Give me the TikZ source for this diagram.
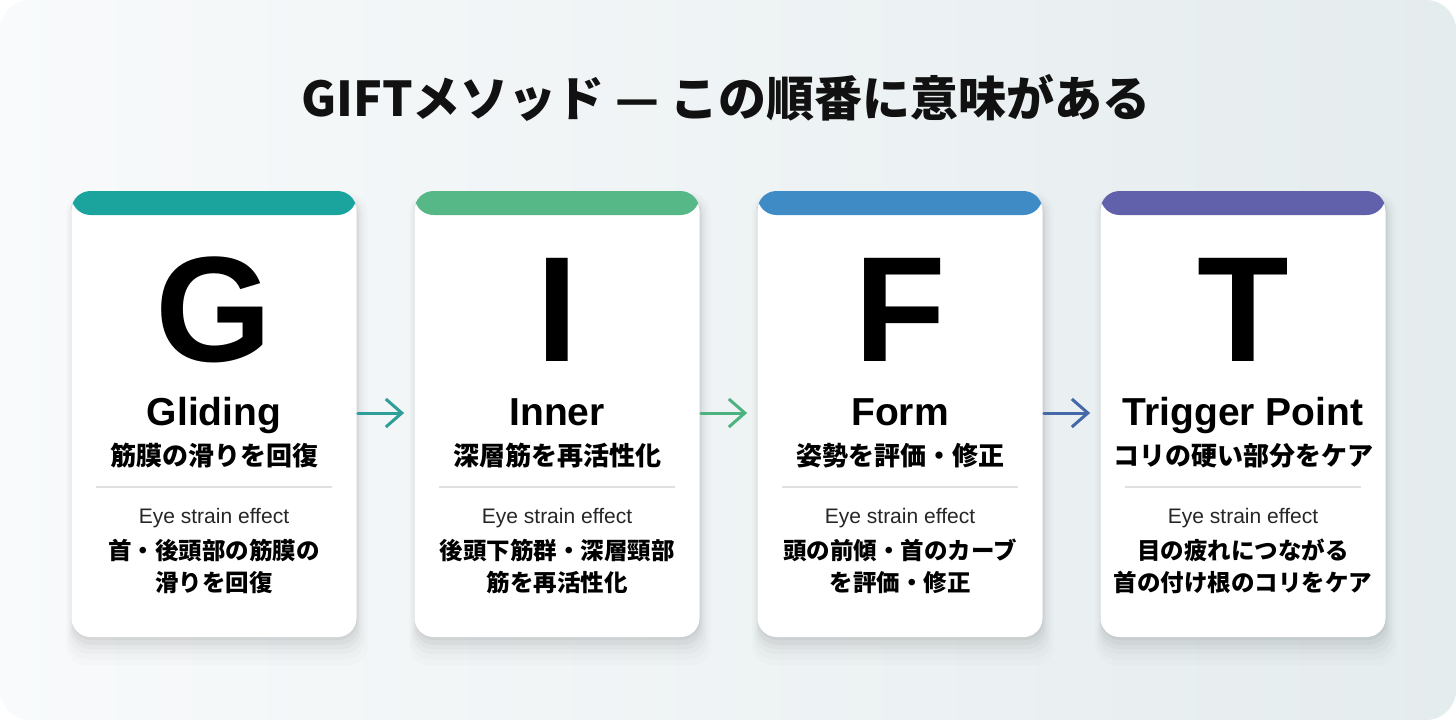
\documentclass[tikz,border=0pt]{standalone}
\usepackage{fontspec}
\setmainfont{Liberation Sans}
\newfontfamily\jpfont{Noto Sans CJK JP}
\usetikzlibrary{arrows.meta,shadows}
\definecolor{gteal}{HTML}{1BA39E}
\definecolor{igreen}{HTML}{56B886}
\definecolor{fblue}{HTML}{3E8BC6}
\definecolor{tpurple}{HTML}{6160AB}
\definecolor{ateal}{HTML}{2E9E98}
\definecolor{agreen}{HTML}{4DB37E}
\definecolor{ablue}{HTML}{4468A8}
\definecolor{ink}{HTML}{111111}
\definecolor{bgleft}{HTML}{F8FAFB}
\definecolor{bgright}{HTML}{E5ECEE}
\tikzset{
    card/.style={rectangle,rounded corners=9.5pt,fill=white,minimum width=142.5pt,minimum height=223pt,inner sep=0pt,
        general shadow={fill=black,opacity=.012,shadow xshift=1.5pt,shadow yshift=-7pt,shadow scale=1.06},
        general shadow={fill=black,opacity=.015,shadow xshift=1.2pt,shadow yshift=-6pt,shadow scale=1.045},
        general shadow={fill=black,opacity=.02,shadow xshift=1pt,shadow yshift=-5pt,shadow scale=1.03},
        general shadow={fill=black,opacity=.025,shadow xshift=.8pt,shadow yshift=-4pt,shadow scale=1.018},
        general shadow={fill=black,opacity=.03,shadow xshift=.6pt,shadow yshift=-3pt,shadow scale=1.008},
        general shadow={fill=black,opacity=.04,shadow xshift=.4pt,shadow yshift=-1.5pt},
        path picture={\fill[#1] (path picture bounding box.north west) rectangle ([yshift=-12pt]path picture bounding box.north east);}},
    letter/.style={anchor=base,inner sep=0pt,font=\fontsize{75pt}{75pt}\selectfont\bfseries},
    cardname/.style={anchor=base,inner sep=0pt,font=\fontsize{19.5pt}{20pt}\selectfont\bfseries},
    subline/.style={anchor=base,inner sep=0pt,font=\jpfont\bfseries\fontsize{13pt}{14pt}\selectfont},
    eyeline/.style={anchor=base,inner sep=0pt,font=\fontsize{10.5pt}{11pt}\selectfont,text=black!85},
    descline/.style={anchor=center,inner sep=0pt,align=center,font=\jpfont\bfseries\fontsize{11.75pt}{16pt}\selectfont},
    divider/.style={draw=black!12,line width=0.75pt},
    flow/.style={-{Straight Barb[length=8pt,width=14pt]},line width=1.5pt,line cap=round,shorten <=0.5pt,shorten >=5pt}
}
\begin{document}
\begin{tikzpicture}[x=0.5pt,y=-0.5pt]
    \useasboundingbox (0,0) rectangle (1456,720);
    \fill[white] (0,0) rectangle (1456,720);
    \shade[rounded corners=15pt,left color=bgleft,right color=bgright] (0,0) rectangle (1456,720);

    \node[text=ink,inner sep=0pt,font=\jpfont\bfseries\fontsize{24pt}{26pt}\selectfont] (title) at (726,98) {GIFTメソッド — この順番に意味がある};

    % G
    \node[card=gteal] (c1) at (214,414) {};
    \node[letter] (l1) at (214,361) {G};
    \node[cardname] (n1) at (214,425) {Gliding};
    \node[subline] (s1) at (214,465) {筋膜の滑りを回復};
    \draw[divider] (96,487) -- (332,487);
    \node[eyeline] (e1) at (214,523) {Eye strain effect};
    \node[descline] (d1) at (214,566) {首・後頭部の筋膜の\\滑りを回復};

    % I
    \node[card=igreen] (c2) at (557,414) {};
    \node[letter] (l2) at (557,361) {I};
    \node[cardname] (n2) at (557,425) {Inner};
    \node[subline] (s2) at (557,465) {深層筋を再活性化};
    \draw[divider] (439,487) -- (675,487);
    \node[eyeline] (e2) at (557,523) {Eye strain effect};
    \node[descline] (d2) at (557,566) {後頭下筋群・深層頸部\\筋を再活性化};

    % F
    \node[card=fblue] (c3) at (900,414) {};
    \node[letter] (l3) at (900,361) {F};
    \node[cardname] (n3) at (900,425) {Form};
    \node[subline] (s3) at (900,465) {姿勢を評価・修正};
    \draw[divider] (782,487) -- (1018,487);
    \node[eyeline] (e3) at (900,523) {Eye strain effect};
    \node[descline] (d3) at (900,566) {頭の前傾・首のカーブ\\を評価・修正};

    % T
    \node[card=tpurple] (c4) at (1243,414) {};
    \node[letter] (l4) at (1243,361) {T};
    \node[cardname] (n4) at (1243,425) {Trigger Point};
    \node[subline] (s4) at (1243,465) {コリの硬い部分をケア};
    \draw[divider] (1125,487) -- (1361,487);
    \node[eyeline] (e4) at (1243,523) {Eye strain effect};
    \node[descline] (d4) at (1243,566) {目の疲れにつながる\\首の付け根のコリをケア};

    \draw[flow,ateal] (c1.east |- 0,413) -- (c2.west |- 0,413);
    \draw[flow,agreen] (c2.east |- 0,413) -- (c3.west |- 0,413);
    \draw[flow,ablue] (c3.east |- 0,413) -- (c4.west |- 0,413);
\end{tikzpicture}
\end{document}
